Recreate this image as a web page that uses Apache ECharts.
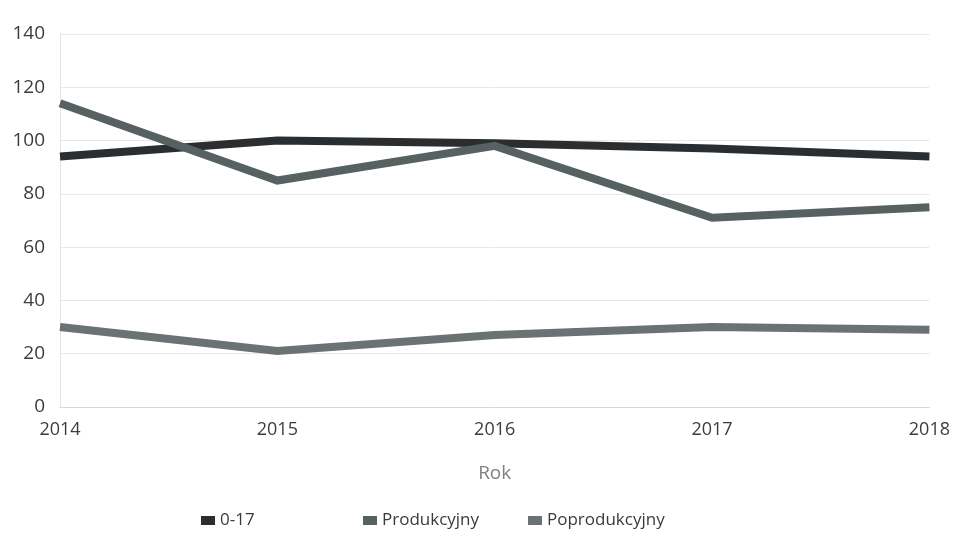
<!DOCTYPE html>
<html>
<head>
<meta charset="utf-8">
<script src="https://cdn.jsdelivr.net/npm/echarts@6/dist/echarts.min.js"></script>
<style>
html,body{margin:0;padding:0;background:#fff;}
#chart{width:953px;height:540px;}
</style>
</head>
<body>
<div id="chart"></div>
<script>
const years = ['2014', '2015', '2016', '2017', '2018'];
const seriesNames = ['0-17', 'Produkcyjny', 'Poprodukcyjny'];
const v017 = [94, 100, 99, 97, 94];
const vProd = [114, 85, 98, 71, 75];
const vPoprod = [30, 21, 27, 30, 29];
const yTicks = { min: 0, max: 140, interval: 20 };
const axisName = 'Rok';

const colors = ['#2a2e30', '#586162', '#6b7274'];
const font = '"Open Sans", "DejaVu Sans", sans-serif';

const chart = echarts.init(document.getElementById('chart'), null, { renderer: 'canvas' });

function legendAt(i, left) {
  return {
    data: [seriesNames[i]],
    left: left,
    top: 507,
    icon: 'rect',
    itemWidth: 14,
    itemHeight: 9,
    itemGap: 8,
    textStyle: { fontFamily: font, fontSize: 17, color: '#3a3a3a' }
  };
}

const option = {
  animation: false,
  backgroundColor: '#ffffff',
  color: colors,
  textStyle: { fontFamily: font },
  legend: [legendAt(0, 196), legendAt(1, 358), legendAt(2, 523)],
  grid: { left: 60, right: 23, top: 34, bottom: 133, containLabel: false },
  xAxis: {
    type: 'category',
    data: years,
    boundaryGap: false,
    name: axisName,
    nameLocation: 'middle',
    nameGap: 57,
    nameTextStyle: { fontFamily: font, fontSize: 19, color: '#808080' },
    axisLine: { show: true, lineStyle: { color: '#d9d9d9', width: 1 } },
    axisTick: { show: false },
    axisLabel: { fontFamily: font, fontSize: 18, color: '#3c3c3c', margin: 14 },
    splitLine: { show: false }
  },
  yAxis: {
    type: 'value',
    min: yTicks.min,
    max: yTicks.max,
    interval: yTicks.interval,
    axisLine: { show: true, lineStyle: { color: '#e4e4e4', width: 1 } },
    axisTick: { show: false },
    axisLabel: { fontFamily: font, fontSize: 19, color: '#3c3c3c', margin: 15 },
    splitLine: { show: true, lineStyle: { color: '#e8e8e8', width: 1 } }
  },
  series: [
    { name: seriesNames[0], type: 'line', data: v017, symbol: 'none', lineStyle: { width: 8, color: colors[0], cap: 'butt', join: 'miter' }, itemStyle: { color: colors[0] }, z: 3 },
    { name: seriesNames[1], type: 'line', data: vProd, symbol: 'none', lineStyle: { width: 8, color: colors[1], cap: 'butt', join: 'miter' }, itemStyle: { color: colors[1] }, z: 4 },
    { name: seriesNames[2], type: 'line', data: vPoprod, symbol: 'none', lineStyle: { width: 8, color: colors[2], cap: 'butt', join: 'miter' }, itemStyle: { color: colors[2] }, z: 2 }
  ]
};
chart.setOption(option);
</script>
</body>
</html>
